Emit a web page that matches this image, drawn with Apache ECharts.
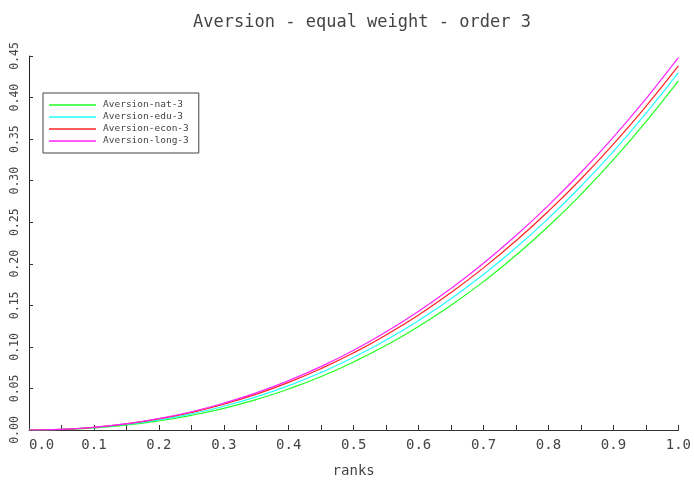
<!DOCTYPE html>
<html>
<head>
<meta charset="utf-8">
<script src="https://cdn.jsdelivr.net/npm/echarts@6/dist/echarts.min.js"></script>
<style>html,body{margin:0;padding:0;background:#fff}#c{width:694px;height:483px}</style>
</head>
<body>
<div id="c"></div>
<script>
const ranks = [0, 0.05, 0.1, 0.15, 0.2, 0.25, 0.3, 0.35, 0.4, 0.45, 0.5, 0.55, 0.6, 0.65, 0.7, 0.75, 0.8, 0.85, 0.9, 0.95, 1.0];
const seriesNames = ['Aversion-nat-3', 'Aversion-edu-3', 'Aversion-econ-3', 'Aversion-long-3'];
const natValues  = [0, 0.0006, 0.0025, 0.0059, 0.0109, 0.0176, 0.0261, 0.0367, 0.0494, 0.0644, 0.0819, 0.1019, 0.1246, 0.1501, 0.1786, 0.2102, 0.2451, 0.2834, 0.3252, 0.3707, 0.4200];
const eduValues  = [0, 0.0007, 0.0029, 0.0066, 0.0121, 0.0194, 0.0286, 0.0399, 0.0534, 0.0693, 0.0875, 0.1083, 0.1318, 0.1580, 0.1872, 0.2194, 0.2547, 0.2933, 0.3353, 0.3809, 0.4300];
const econValues = [0, 0.0008, 0.0032, 0.0073, 0.0133, 0.0211, 0.0310, 0.0431, 0.0573, 0.0739, 0.0929, 0.1144, 0.1385, 0.1654, 0.1951, 0.2277, 0.2633, 0.3020, 0.3440, 0.3893, 0.4380];
const longValues = [0, 0.0008, 0.0033, 0.0076, 0.0138, 0.0220, 0.0323, 0.0447, 0.0594, 0.0765, 0.0960, 0.1181, 0.1428, 0.1704, 0.2007, 0.2340, 0.2703, 0.3098, 0.3525, 0.3985, 0.4480];
const colors = ['#22ff22', '#22ffff', '#ff2222', '#ff22ff'];
const allValues = [natValues, eduValues, econValues, longValues];

const FONT = 'DejaVu Sans Mono';
const chart = echarts.init(document.getElementById('c'));
chart.setOption({
  animation: false,
  title: {
    text: 'Aversion - equal weight - order 3',
    left: 357, top: 9, textAlign: 'center',
    textStyle: { fontFamily: FONT, fontSize: 17, fontWeight: 'normal', color: '#444' }
  },
  legend: {
    orient: 'vertical', left: 43, top: 93,
    padding: [6, 10, 6, 6],
    icon: 'rect',
    itemWidth: 47, itemHeight: 1.5, itemGap: 0,
    borderColor: '#444', borderWidth: 1,
    data: seriesNames,
    textStyle: { fontFamily: FONT, fontSize: 9.5, color: '#444', lineHeight: 12, height: 12, padding: [0, 0, 0, 2] }
  },
  grid: { left: 29, right: 11, top: 56, bottom: 53, containLabel: false },
  xAxis: {
    type: 'value', min: 0, max: 1, interval: 0.1,
    name: 'ranks', nameLocation: 'middle', nameGap: 34,
    nameTextStyle: { fontFamily: FONT, fontSize: 14, color: '#444' },
    axisLine: { lineStyle: { color: '#333', width: 1 } },
    axisTick: { inside: true, length: 5, lineStyle: { color: '#333' } },
    minorTick: { show: true, splitNumber: 2, length: 5, lineStyle: { color: '#333' } },
    splitLine: { show: false },
    axisLabel: { fontFamily: FONT, fontSize: 14, color: '#444', margin: 8, alignMinLabel: 'left',
      formatter: v => v.toFixed(1) }
  },
  yAxis: {
    type: 'value', min: 0, max: 0.45, interval: 0.05,
    axisLine: { show: true, lineStyle: { color: '#222', width: 1 } },
    axisTick: { show: true, inside: true, length: 4, lineStyle: { color: '#333' } },
    splitLine: { show: false },
    axisLabel: { fontFamily: FONT, fontSize: 11.5, color: '#444', margin: 8, rotate: 90,
      formatter: v => v.toFixed(2) }
  },
  series: seriesNames.map((n, i) => ({
    name: n, type: 'line', smooth: true, symbol: 'none',
    color: colors[i],
    lineStyle: { width: 1.2, color: colors[i] },
    data: ranks.map((r, j) => [r, allValues[i][j]])
  }))
});
</script>
</body>
</html>
